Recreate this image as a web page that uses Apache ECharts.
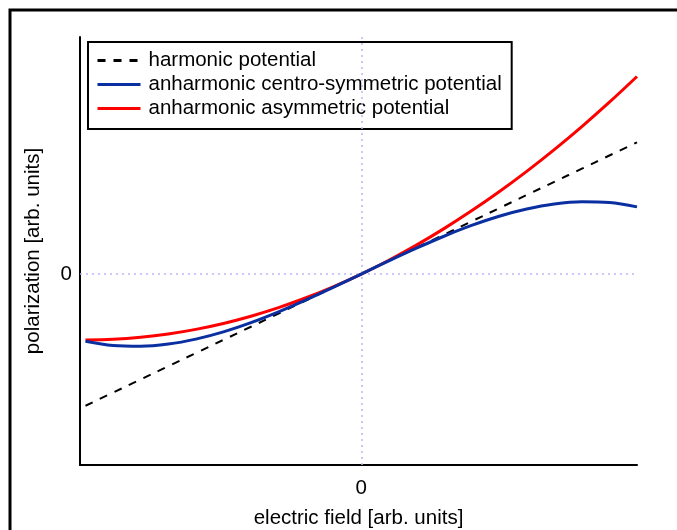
<!DOCTYPE html>
<html><head><meta charset="utf-8">
<script src="https://cdn.jsdelivr.net/npm/echarts@6/dist/echarts.min.js"></script>
<style>html,body{margin:0;padding:0;background:#fff}#c{width:677px;height:530px}</style>
</head><body><div id="c"></div>
<script>
var fieldE = [-1,-0.9,-0.8,-0.7,-0.6,-0.5,-0.4,-0.3,-0.2,-0.1,0,0.1,0.2,0.3,0.4,0.5,0.6,0.7,0.8,0.9,1];
var harmonic = [-1,-0.9,-0.8,-0.7,-0.6,-0.5,-0.4,-0.3,-0.2,-0.1,0,0.1,0.2,0.3,0.4,0.5,0.6,0.7,0.8,0.9,1];
var centroSym = [-0.51,-0.543,-0.549,-0.532,-0.494,-0.439,-0.369,-0.287,-0.196,-0.0995,0,0.0995,0.196,0.287,0.369,0.439,0.494,0.532,0.549,0.543,0.51];
var asymmetric = [-0.5,-0.495,-0.48,-0.455,-0.42,-0.375,-0.32,-0.255,-0.18,-0.095,0,0.105,0.22,0.345,0.48,0.625,0.78,0.945,1.12,1.305,1.5];
var seriesNames = ['harmonic potential','anharmonic centro-symmetric potential','anharmonic asymmetric potential'];
var xTicks = [0], yTicks = [0];

function pairs(ys){ return fieldE.map(function(x,i){return [x, ys[i]];}); }
var font = 'Liberation Sans, Arial, sans-serif';
var fs = 20.5;
var chart = echarts.init(document.getElementById('c'));
chart.setOption({
  animation:false,
  backgroundColor:'#fff',
  graphic:[{type:'rect', shape:{x:10,y:10,width:700,height:600}, style:{fill:'none', stroke:'#000', lineWidth:3}, z:100}],
  grid:{left:80,right:40,top:37,bottom:65,outerBoundsMode:'none',containLabel:false},
  legend:{
    orient:'vertical', left:88, top:42,
    backgroundColor:'#fff', borderColor:'#000', borderWidth:2,
    padding:[8,10,10,8], itemGap:3, itemWidth:43, itemHeight:14,
    itemStyle:{opacity:0},
    lineStyle:{width:3},
    textStyle:{fontFamily:font, fontSize:fs, color:'#000', padding:[0,0,0,3]},
    data:seriesNames
  },
  xAxis:{
    type:'value', min:-1.02, max:1,
    name:'electric field [arb. units]', nameLocation:'middle', nameGap:43,
    nameTextStyle:{fontFamily:font, fontSize:fs, color:'#000'},
    axisLine:{onZero:false, lineStyle:{color:'#000', width:2}},
    axisTick:{show:false},
    axisLabel:{fontFamily:font, fontSize:fs, color:'#000', margin:13,
      customValues:xTicks, formatter:function(v){return Math.abs(v)<1e-9?'0':'';}},
    splitLine:{show:false}
  },
  yAxis:{
    type:'value', min:-1.45, max:1.8,
    name:'polarization [arb. units]', nameLocation:'middle', nameGap:36,
    nameTextStyle:{fontFamily:font, fontSize:fs, color:'#000'},
    axisLine:{onZero:false, lineStyle:{color:'#000', width:2}},
    axisTick:{show:false},
    axisLabel:{fontFamily:font, fontSize:fs, color:'#000', margin:8,
      customValues:yTicks, formatter:function(v){return Math.abs(v)<1e-9?'0':'';}},
    splitLine:{show:false}
  },
  series:[
    {name:seriesNames[0], type:'line', data:pairs(harmonic), symbol:'none', smooth:true,
      lineStyle:{color:'#000', width:2, type:[8,8]}, itemStyle:{color:'#000'}, z:3,
      markLine:{silent:true, symbol:'none', label:{show:false},
        lineStyle:{color:'#b8b8f0', width:1.5, type:[2,4]},
        data:[{xAxis:0},{yAxis:0}]}},
    {name:seriesNames[1], type:'line', data:pairs(centroSym), symbol:'none', smooth:0.35,
      lineStyle:{color:'#0a2fa0', width:3}, itemStyle:{color:'#0a2fa0'}, z:5},
    {name:seriesNames[2], type:'line', data:pairs(asymmetric), symbol:'none', smooth:0.35,
      lineStyle:{color:'#ff0000', width:3}, itemStyle:{color:'#ff0000'}, z:4}
  ]
});
</script></body></html>
